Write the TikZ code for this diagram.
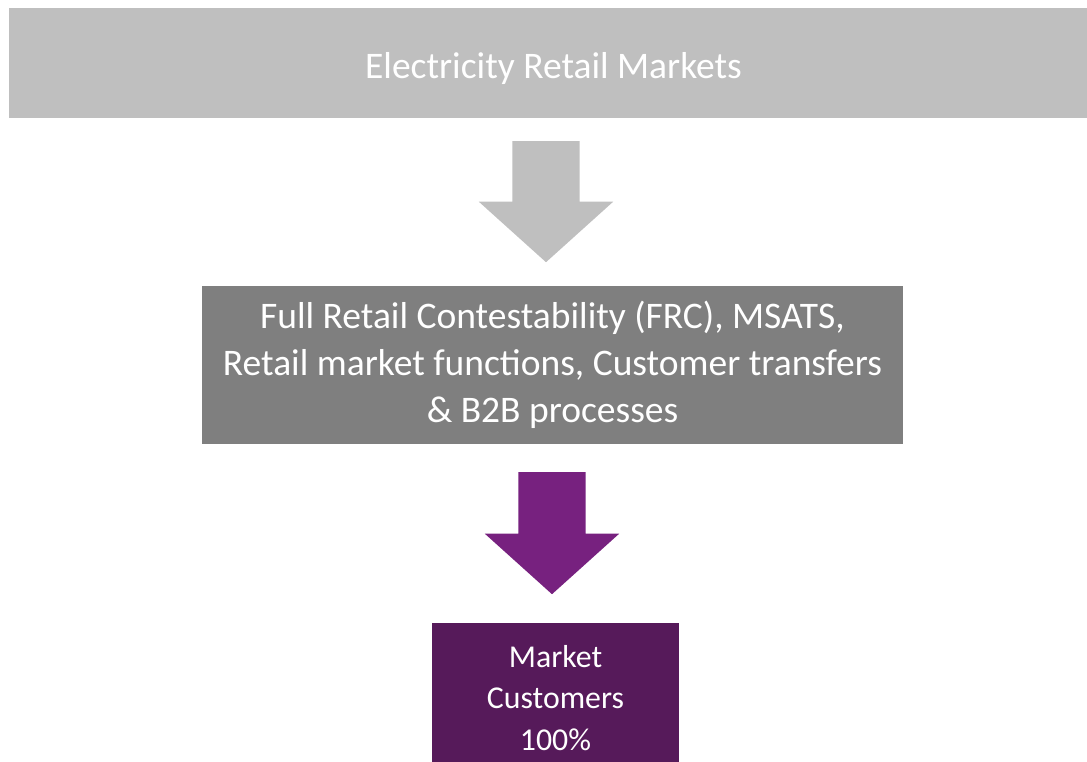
\documentclass[tikz,border=0pt]{standalone}
\usepackage{fontspec}
\setmainfont{Carlito}
\usetikzlibrary{shapes.arrows}
\definecolor{topgray}{HTML}{BFBFBF}
\definecolor{midgray}{HTML}{7F7F7F}
\definecolor{arrowpurple}{HTML}{77217F}
\definecolor{boxpurple}{HTML}{561A5A}

\begin{document}
\begin{tikzpicture}[x=1pt, y=-1pt,
	box/.style={fill=#1, text=white, inner sep=0pt, align=center},
	bigarrow/.style={single arrow, fill=#1, draw=none, rotate=-90, anchor=tail, inner xsep=0pt, inner ysep=33.5pt,
		single arrow head extend=33.5pt, single arrow tip angle=96}]
	\useasboundingbox (0,0) rectangle (1087,761);
	% boxes
	\node (markets) [box=topgray, minimum width=1089pt, minimum height=110pt, text height=38pt,
		font=\fontsize{37.5}{45}\selectfont] at (553.5,63) {Electricity Retail Markets};
	\node (frc) [box=midgray, minimum width=701pt, minimum height=158pt,
		font=\fontsize{37.5}{47}\selectfont] at (552.5,365)
		{Full Retail Contestability (FRC), MSATS,\\Retail market functions, Customer transfers\\\& B2B processes};
	\node (customers) [box=boxpurple, minimum width=247pt, minimum height=150pt,
		font=\fontsize{31.8}{41.5}\selectfont] at (555.5,698) {Market\\Customers\\100\%};
	% arrows
	\node (down1) [bigarrow=topgray, minimum height=121pt] at (546,141) {};
	\node (down2) [bigarrow=arrowpurple, minimum height=122pt] at (552,472) {};
\end{tikzpicture}
\end{document}
